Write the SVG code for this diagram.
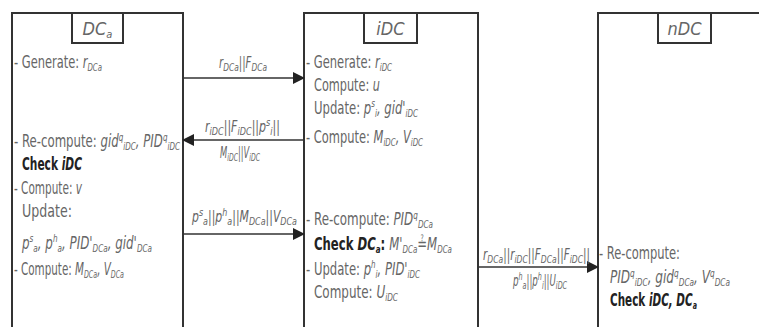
<svg xmlns="http://www.w3.org/2000/svg" width="759" height="327" viewBox="0 0 759 327">
<style>
.box{fill:#fff;stroke:#333;stroke-width:2}
.tab{fill:#fff;stroke:#333;stroke-width:2}
text{font-family:"Liberation Sans Narrow","DejaVu Sans Condensed","Liberation Sans",sans-serif;font-size:18px;fill:#666}
.ti{font-style:italic;font-size:18px;text-anchor:middle}
.i{font-style:italic}
.s{font-size:11px}
.b{font-weight:bold;fill:#222}
.lb{font-size:15px}
.con{stroke:#333;stroke-width:1.6;fill:none}
</style>
<defs>
<marker id="ah" markerUnits="userSpaceOnUse" markerWidth="12" markerHeight="12" refX="11" refY="6" orient="auto"><path d="M0,0 L12,6 L0,12 z" fill="#222"/></marker>
</defs>
<g id="node-DCa">
<rect class="box" x="12" y="13" width="171" height="330"/>
<rect class="tab" x="72" y="13" width="51" height="30"/>
<text class="ti" x="97.5" y="35">DC<tspan class="s" dy="3">a</tspan></text>
<text x="14" y="68" textLength="88" lengthAdjust="spacingAndGlyphs">- Generate: <tspan class="i">r</tspan><tspan class="s i" dy="3">DCa</tspan></text>
<text x="14" y="147" textLength="166" lengthAdjust="spacingAndGlyphs">- Re-compute: <tspan class="i">gid</tspan><tspan class="s i" dy="-6">q</tspan><tspan class="s i" dy="9">iDC</tspan><tspan dy="-3" class="i">, PID</tspan><tspan class="s i" dy="-6">q</tspan><tspan class="s i" dy="9">iDC</tspan></text>
<text class="b" x="22" y="170" textLength="60" lengthAdjust="spacingAndGlyphs">Check <tspan class="i">iDC</tspan></text>
<text x="14" y="194" textLength="68" lengthAdjust="spacingAndGlyphs">- Compute: <tspan class="i">v</tspan></text>
<text x="22" y="217" textLength="50" lengthAdjust="spacingAndGlyphs">Update:</text>
<text class="i" x="22" y="249" textLength="130" lengthAdjust="spacingAndGlyphs">p<tspan class="s" dy="-7">s</tspan><tspan class="s" dy="10">a</tspan><tspan dy="-3">, p</tspan><tspan class="s" dy="-7">h</tspan><tspan class="s" dy="10">a</tspan><tspan dy="-3">, PID'</tspan><tspan class="s" dy="3">DCa</tspan><tspan dy="-3">, gid'</tspan><tspan class="s" dy="3">DCa</tspan></text>
<text x="14" y="275" textLength="110" lengthAdjust="spacingAndGlyphs">- Compute: <tspan class="i">M</tspan><tspan class="s i" dy="3">DCa</tspan><tspan class="i" dy="-3">, V</tspan><tspan class="s i" dy="3">DCa</tspan></text>
</g>
<g id="node-iDC">
<rect class="box" x="304" y="13" width="174" height="330"/>
<rect class="tab" x="364" y="13" width="53" height="30"/>
<text class="ti" x="390.5" y="35">iDC</text>
<text x="306" y="68" textLength="86" lengthAdjust="spacingAndGlyphs">- Generate: <tspan class="i">r</tspan><tspan class="s i" dy="3">iDC</tspan></text>
<text x="314" y="91" textLength="66" lengthAdjust="spacingAndGlyphs">Compute: <tspan class="i">u</tspan></text>
<text x="314" y="114" textLength="104" lengthAdjust="spacingAndGlyphs">Update: <tspan class="i">p</tspan><tspan class="s i" dy="-7">s</tspan><tspan class="s i" dy="10">i</tspan><tspan class="i" dy="-3">, gid'</tspan><tspan class="s i" dy="3">iDC</tspan></text>
<text x="306" y="143" textLength="117" lengthAdjust="spacingAndGlyphs">- Compute: <tspan class="i">M</tspan><tspan class="s i" dy="3">iDC</tspan><tspan class="i" dy="-3">, V</tspan><tspan class="s i" dy="3">iDC</tspan></text>
<text x="306" y="225" textLength="127" lengthAdjust="spacingAndGlyphs">- Re-compute: <tspan class="i">PID</tspan><tspan class="s i" dy="-6">q</tspan><tspan class="s i" dy="9">DCa</tspan></text>
<text x="314" y="250" textLength="138" lengthAdjust="spacingAndGlyphs"><tspan class="b">Check <tspan class="i">DC</tspan></tspan><tspan class="s b i" dy="3">a</tspan><tspan class="b" dy="-3">: </tspan><tspan class="i">M'</tspan><tspan class="s i" dy="3">DCa</tspan><tspan class="i" dy="-3">≟M</tspan><tspan class="s i" dy="3">DCa</tspan></text>
<text x="306" y="275" textLength="114" lengthAdjust="spacingAndGlyphs">- Update: <tspan class="i">p</tspan><tspan class="s i" dy="-7">h</tspan><tspan class="s i" dy="10">i</tspan><tspan class="i" dy="-3">, PID'</tspan><tspan class="s i" dy="3">iDC</tspan></text>
<text x="314" y="298" textLength="84" lengthAdjust="spacingAndGlyphs">Compute: <tspan class="i">U</tspan><tspan class="s i" dy="3">iDC</tspan></text>
</g>
<g id="node-nDC">
<rect class="box" x="598" y="13" width="200" height="330"/>
<rect class="tab" x="658" y="13" width="53" height="30"/>
<text class="ti" x="684.5" y="35">nDC</text>
<text x="599" y="259" textLength="81" lengthAdjust="spacingAndGlyphs">- Re-compute:</text>
<text class="i" x="610" y="283" textLength="120" lengthAdjust="spacingAndGlyphs">PID<tspan class="s" dy="-6">q</tspan><tspan class="s" dy="9">iDC</tspan><tspan dy="-3">, gid</tspan><tspan class="s" dy="-6">q</tspan><tspan class="s" dy="9">DCa</tspan><tspan dy="-3">, V</tspan><tspan class="s" dy="-6">q</tspan><tspan class="s" dy="9">DCa</tspan></text>
<text class="b" x="610" y="306" textLength="87" lengthAdjust="spacingAndGlyphs">Check <tspan class="i">iDC, DC</tspan><tspan class="s i" dy="3">a</tspan></text>
</g>
<g id="connectors">
<line class="con" x1="183" y1="78" x2="304" y2="78" marker-end="url(#ah)"/>
<text class="lb i" x="219" y="68" textLength="48" lengthAdjust="spacingAndGlyphs">r<tspan class="s" dy="3">DCa</tspan><tspan dy="-3">||F</tspan><tspan class="s" dy="3">DCa</tspan></text>
<line class="con" x1="304" y1="140" x2="183" y2="140" marker-end="url(#ah)"/>
<text class="lb i" x="205" y="132" textLength="75" lengthAdjust="spacingAndGlyphs">r<tspan class="s" dy="3">iDC</tspan><tspan dy="-3">||F</tspan><tspan class="s" dy="3">iDC</tspan><tspan dy="-3">||p</tspan><tspan class="s" dy="-6">s</tspan><tspan class="s" dy="9">i</tspan><tspan dy="-3">||</tspan></text>
<text class="lb i" x="220" y="158" textLength="40" lengthAdjust="spacingAndGlyphs">M<tspan class="s" dy="3">iDC</tspan><tspan dy="-3">||V</tspan><tspan class="s" dy="3">iDC</tspan></text>
<line class="con" x1="183" y1="234" x2="304" y2="234" marker-end="url(#ah)"/>
<text class="lb i" x="192" y="222" textLength="105" lengthAdjust="spacingAndGlyphs">p<tspan class="s" dy="-6">s</tspan><tspan class="s" dy="9">a</tspan><tspan dy="-3">||p</tspan><tspan class="s" dy="-6">h</tspan><tspan class="s" dy="9">a</tspan><tspan dy="-3">||M</tspan><tspan class="s" dy="3">DCa</tspan><tspan dy="-3">||V</tspan><tspan class="s" dy="3">DCa</tspan></text>
<line class="con" x1="478" y1="267" x2="598" y2="267" marker-end="url(#ah)"/>
<text class="lb i" x="483" y="260" textLength="107" lengthAdjust="spacingAndGlyphs">r<tspan class="s" dy="3">DCa</tspan><tspan dy="-3">||r</tspan><tspan class="s" dy="3">iDC</tspan><tspan dy="-3">||F</tspan><tspan class="s" dy="3">DCa</tspan><tspan dy="-3">||F</tspan><tspan class="s" dy="3">iDC</tspan><tspan dy="-3">||</tspan></text>
<text class="lb i" x="513" y="286" textLength="54" lengthAdjust="spacingAndGlyphs">p<tspan class="s" dy="-6">h</tspan><tspan class="s" dy="9">a</tspan><tspan dy="-3">||p</tspan><tspan class="s" dy="-6">h</tspan><tspan class="s" dy="9">i</tspan><tspan dy="-3">||U</tspan><tspan class="s" dy="3">iDC</tspan></text>
</g>
</svg>
